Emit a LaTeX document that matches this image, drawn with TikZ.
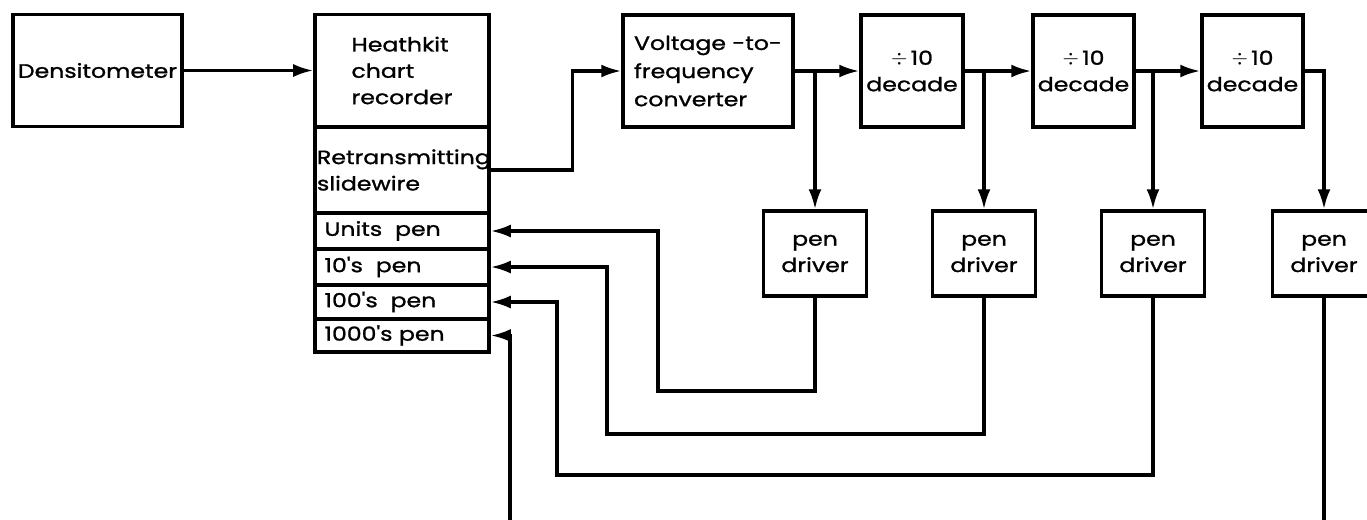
\documentclass[tikz,border=0pt]{standalone}
\usepackage{fontspec}
\newfontfamily\labelfont[FakeStretch=1.22,FakeBold=1.2]{Poppins}
\usetikzlibrary{arrows.meta,positioning,calc}
\newcommand{\divten}{{\large$\div$}\,10}

\begin{document}
\begin{tikzpicture}[
  blk/.style={rectangle,draw,line width=2pt,inner sep=1pt,
              minimum height=22.4mm,
              font=\labelfont\fontsize{11}{15}\selectfont},
  pen/.style={rectangle,draw,line width=2pt,inner sep=1pt,
              minimum width=34.8mm,text width=31mm,align=left,
              font=\labelfont\fontsize{11}{15}\selectfont},
  drv/.style={rectangle,draw,line width=2pt,
              minimum width=20.6mm,minimum height=17mm,align=center,
              font=\labelfont\fontsize{11}{15}\selectfont},
  arrow/.style={-{Latex[length=4mm,width=2.6mm]},line width=1.8pt},
]
\useasboundingbox (0,0) rectangle (27.34,-10.38);
\clip (0,0) rectangle (27.34,-10.38);

% recorder side
\node[blk,minimum width=33.8mm] (dens) at (1.95,-1.41) {Densitometer};
\node[blk,minimum width=34.8mm,align=left] (rec) at (8.04,-1.41)
  {Heathkit\\chart\\recorder};
\node[pen,minimum height=17.2mm,inner sep=0pt,text width=34mm] (slide) at (8.04,-3.40)
  {Retransmitting\\slidewire};
\node[pen,minimum height=7.2mm] (units) at (8.04,-4.62) {Units\ \ pen};
\node[pen,minimum height=7.2mm] (tens)  at (8.04,-5.34) {10's\ \ pen};
\node[pen,minimum height=6.8mm] (hund)  at (8.04,-6.04) {100's\ \ pen};
\node[pen,minimum height=6.6mm] (thou)  at (8.04,-6.71) {1000's pen};

% counting chain
\node[blk,minimum width=34mm,align=left,
      font=\labelfont\fontsize{11}{16}\selectfont] (vf) at (14.16,-1.42)
  {Voltage -to-\\frequency\\converter};
\node[blk,minimum width=20.4mm,align=center] (dec1) at (18.24,-1.42) {\divten\\decade};
\node[blk,minimum width=20.2mm,align=center] (dec2) at (21.67,-1.42) {\divten\\decade};
\node[blk,minimum width=20.2mm,align=center] (dec3) at (25.05,-1.42) {\divten\\decade};

\node[drv] (pd1) at (16.30,-5.07) {pen\\driver};
\node[drv] (pd2) at (19.68,-5.07) {pen\\driver};
\node[drv] (pd3) at (23.06,-5.07) {pen\\driver};
\node[drv] (pd4) at (26.48,-5.07) {pen\\driver};

\draw[arrow] (dens.east) -- (rec.west);
\draw[arrow] (slide.east) -- ++(1.64,0) |- (vf.west);
\draw[arrow] (vf.east)   -- (dec1.west);
\draw[arrow] (dec1.east) -- (dec2.west);
\draw[arrow] (dec2.east) -- (dec3.west);
\draw[arrow] (dec3.east) -| (pd4.north);

\draw[arrow] (vf.east -| pd1.north)   -- (pd1.north);
\draw[arrow] (dec1.east -| pd2.north) -- (pd2.north);
\draw[arrow] (dec2.east -| pd3.north) -- (pd3.north);

% returns to the pens
\draw[arrow] (pd1.south) |- (13.16,-7.82) |- (units.east);
\draw[arrow] (pd2.south) |- (12.14,-8.68) |- (tens.east);
\draw[arrow] (pd3.south) |- (11.14,-9.50) |- (hund.east);
\draw[arrow] (pd4.south) |- (10.20,-10.50) |- (thou.east);
\end{tikzpicture}
\end{document}
